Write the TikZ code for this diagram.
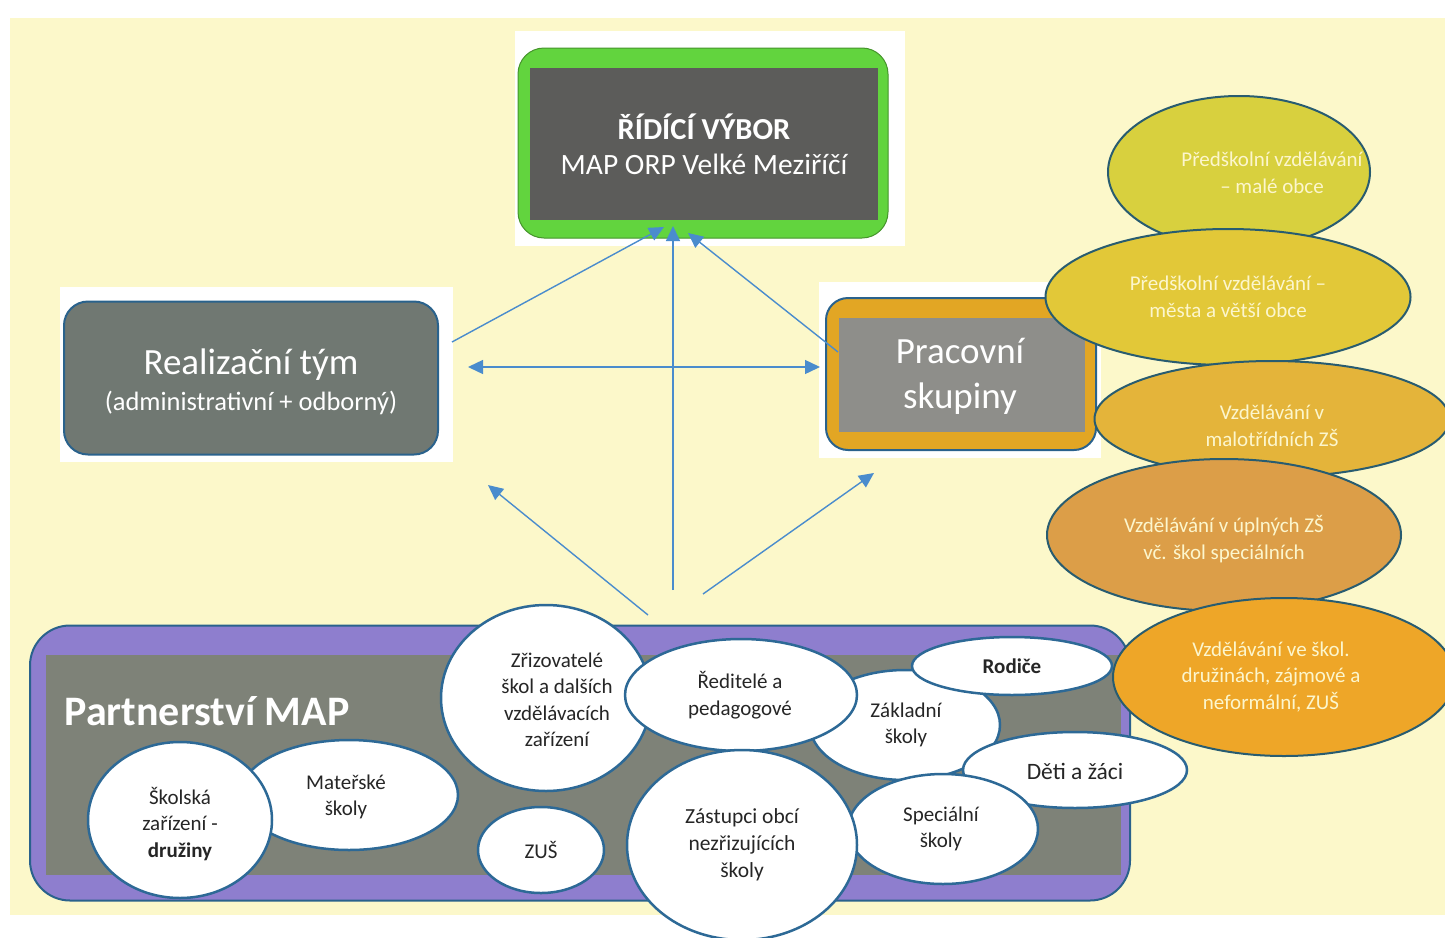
\documentclass[tikz,border=0pt]{standalone}
\usepackage{fontspec}
\setmainfont{Carlito}
\usetikzlibrary{arrows.meta,shapes.geometric}
\definecolor{bgyellow}{RGB}{252,248,202}
\definecolor{topgreen}{RGB}{98,212,62}
\definecolor{topgray}{RGB}{92,92,90}
\definecolor{realgray}{RGB}{112,120,114}
\definecolor{bordblue}{RGB}{42,98,140}
\definecolor{orangebox}{RGB}{226,166,36}
\definecolor{prgray}{RGB}{142,142,138}
\definecolor{purplebox}{RGB}{142,126,206}
\definecolor{pagray}{RGB}{126,130,120}
\definecolor{elborder}{RGB}{40,92,112}
\definecolor{eone}{RGB}{216,208,62}
\definecolor{etwo}{RGB}{226,200,56}
\definecolor{ethree}{RGB}{228,180,58}
\definecolor{efour}{RGB}{220,158,72}
\definecolor{efive}{RGB}{238,166,40}
\definecolor{eltext}{RGB}{252,246,205}
\definecolor{arrblue}{RGB}{74,140,205}
\definecolor{circborder}{RGB}{45,105,150}
\begin{document}
\begin{tikzpicture}[x=1pt,y=-1pt,
  backdrop/.style={fill=white,draw=none,inner sep=0,minimum width=#1},
  ovalnode/.style={ellipse,draw=elborder,line width=2pt,inner sep=0},
  whiteoval/.style={ellipse,draw=circborder,line width=2.5pt,fill=white,inner sep=0},
  oval text/.style={text=eltext,align=center,font=\fontsize{21}{26.5}\selectfont},
  circ text/.style={text=black!85,align=center,font=\fontsize{21}{26.5}\selectfont},
  conn/.style={draw=arrblue,line width=1.4pt},
  tip/.style={-{Triangle[length=15pt,width=14pt]}},
]
\useasboundingbox (0,0) rectangle (1445,937);
\fill[white] (0,0) rectangle (1445,937);
\fill[bgyellow] (10,18) rectangle (1445,915);

% ---------- Řídící výbor ----------
\node[backdrop=390pt,minimum height=215pt] (rvbg) at (710,138) {};
\node[draw=topgreen!70!black,line width=1pt,fill=topgreen,rounded corners=26pt,
      minimum width=370pt,minimum height=190pt,inner sep=0] (rv) at (703,143) {};
\node[fill=topgray,minimum width=348pt,minimum height=152pt,inner sep=0] (rvin) at (704,144) {};
\node[text=white,font=\bfseries\fontsize{30.5}{36}\selectfont] (rvt1) at (704,127) {ŘÍDÍCÍ VÝBOR};
\node[text=white,font=\fontsize{29.5}{36}\selectfont] (rvt2) at (704,164) {MAP ORP Velké Meziříčí};

% ---------- Realizační tým ----------
\node[backdrop=393pt,minimum height=175pt] (rtbg) at (256,374) {};
\node[draw=bordblue,line width=2pt,fill=realgray,rounded corners=24pt,
      minimum width=374pt,minimum height=153pt,inner sep=0] (rt) at (251,378) {};
\node[text=white,font=\fontsize{37}{44}\selectfont] (rtt1) at (251,365) {Realizační tým};
\node[text=white,font=\fontsize{26.5}{32}\selectfont] (rtt2) at (251,403) {(administrativní + odborný)};

% ---------- Pracovní skupiny ----------
\node[backdrop=282pt,minimum height=176pt] (psbg) at (960,370) {};
\node[draw=bordblue,line width=2pt,fill=orangebox,rounded corners=22pt,
      minimum width=270pt,minimum height=152pt,inner sep=0] (ps) at (961,374) {};
\node[fill=prgray,minimum width=246pt,minimum height=114pt,inner sep=0] (psin) at (962,375) {};
\node[text=white,align=center,font=\fontsize{37}{45}\selectfont] (pst) at (960,376) {Pracovní\\skupiny};

% ---------- right ellipses ----------
\node[ovalnode,fill=eone,minimum width=262pt,minimum height=152pt] (e1) at (1239,172) {};
\node[oval text] (e1t) at (1272,173) {Předškolní vzdělávání\\– malé obce};
\node[ovalnode,fill=etwo,minimum width=365pt,minimum height=136pt] (e2) at (1228,297) {};
\node[oval text] (e2t) at (1228,297) {Předškolní vzdělávání –\\města a větší obce};
\node[ovalnode,fill=ethree,minimum width=355pt,minimum height=116pt] (e3) at (1272,419) {};
\node[oval text] (e3t) at (1272,426) {Vzdělávání v\\malotřídních ZŠ};
\node[ovalnode,fill=efour,minimum width=354pt,minimum height=152pt] (e4) at (1224,535) {};
\node[oval text] (e4t) at (1224,539) {Vzdělávání v úplných ZŠ\\vč. škol speciálních};

% ---------- Partnerství MAP ----------
\node[draw=bordblue,line width=2pt,fill=purplebox,rounded corners=40pt,
      minimum width=1100pt,minimum height=275pt,inner sep=0] (pm) at (580,763) {};
\node[fill=pagray,minimum width=1075pt,minimum height=220pt,inner sep=0] (pmin) at (583,765) {};
\node[text=white,font=\bfseries\fontsize{42}{48}\selectfont] (pmt) at (207,711) {Partnerství MAP};

\node[ovalnode,fill=efive,minimum width=342pt,minimum height=158pt] (e5) at (1284,677) {};
\node[oval text] (e5t) at (1271,677) {Vzdělávání ve škol.\\družinách, zájmové a\\neformální, ZUŠ};

% white member ovals
\node[whiteoval,minimum width=218pt,minimum height=110pt] (ms) at (349,795) {};
\node[circ text] (mst) at (346,797) {Mateřské\\školy};
\node[whiteoval,minimum width=184pt,minimum height=156pt] (sz) at (180,820) {};
\node[circ text] (szt) at (180,824) {Školská\\zařízení -\\\textbf{družiny}};
\node[whiteoval,minimum width=210pt,minimum height=186pt] (zr) at (546,698) {};
\node[circ text] (zrt) at (557,700) {Zřizovatelé\\škol a dalších\\vzdělávacích\\zařízení};
\node[whiteoval,minimum width=126pt,minimum height=86pt] (zus) at (541,850) {};
\node[circ text] (zust) at (541,850) {ZUŠ};
\node[whiteoval,minimum width=190pt,minimum height=110pt] (zs) at (905,725) {};
\node[circ text] (zst) at (906,725) {Základní\\školy};
\node[whiteoval,minimum width=232pt,minimum height=112pt] (rp) at (741,695) {};
\node[circ text] (rpt) at (740,695) {Ředitelé a\\pedagogové};
\node[whiteoval,minimum width=200pt,minimum height=58pt] (ro) at (1012,666) {};
\node[circ text,font=\bfseries\fontsize{21}{26}\selectfont] (rot) at (1012,666) {Rodiče};
\node[whiteoval,minimum width=224pt,minimum height=76pt] (dz) at (1075,770) {};
\node[circ text,font=\fontsize{23.5}{28}\selectfont] (dzt) at (1075,771) {Děti a žáci};
\node[whiteoval,minimum width=190pt,minimum height=110pt] (sp) at (943,829) {};
\node[circ text] (spt) at (941,829) {Speciální\\školy};
\node[whiteoval,minimum width=230pt,minimum height=190pt] (zo) at (742,845) {};
\node[circ text,font=\fontsize{21.5}{27}\selectfont] (zot) at (742,845) {Zástupci obcí\\nezřizujících\\školy};

% ---------- connectors ----------
\coordinate (a1s) at (452,342);   \coordinate (a1e) at (664,227);
\coordinate (a2s) at (673,590);   \coordinate (a2e) at (673,226);
\coordinate (a3s) at (838,352);   \coordinate (a3e) at (688,233);
\coordinate (a4s) at (468,367);   \coordinate (a4e) at (820,367);
\coordinate (a5s) at (648,615);   \coordinate (a5e) at (488,485);
\coordinate (a6s) at (703,594);   \coordinate (a6e) at (874,473);
\draw[conn,tip] (a1s) -- (a1e);
\draw[conn,tip] (a2s) -- (a2e);
\draw[conn,tip] (a3s) -- (a3e);
\draw[conn,{Triangle[length=15pt,width=14pt]}-{Triangle[length=15pt,width=14pt]}] (a4s) -- (a4e);
\draw[conn,tip] (a5s) -- (a5e);
\draw[conn,tip] (a6s) -- (a6e);
\end{tikzpicture}
\end{document}
